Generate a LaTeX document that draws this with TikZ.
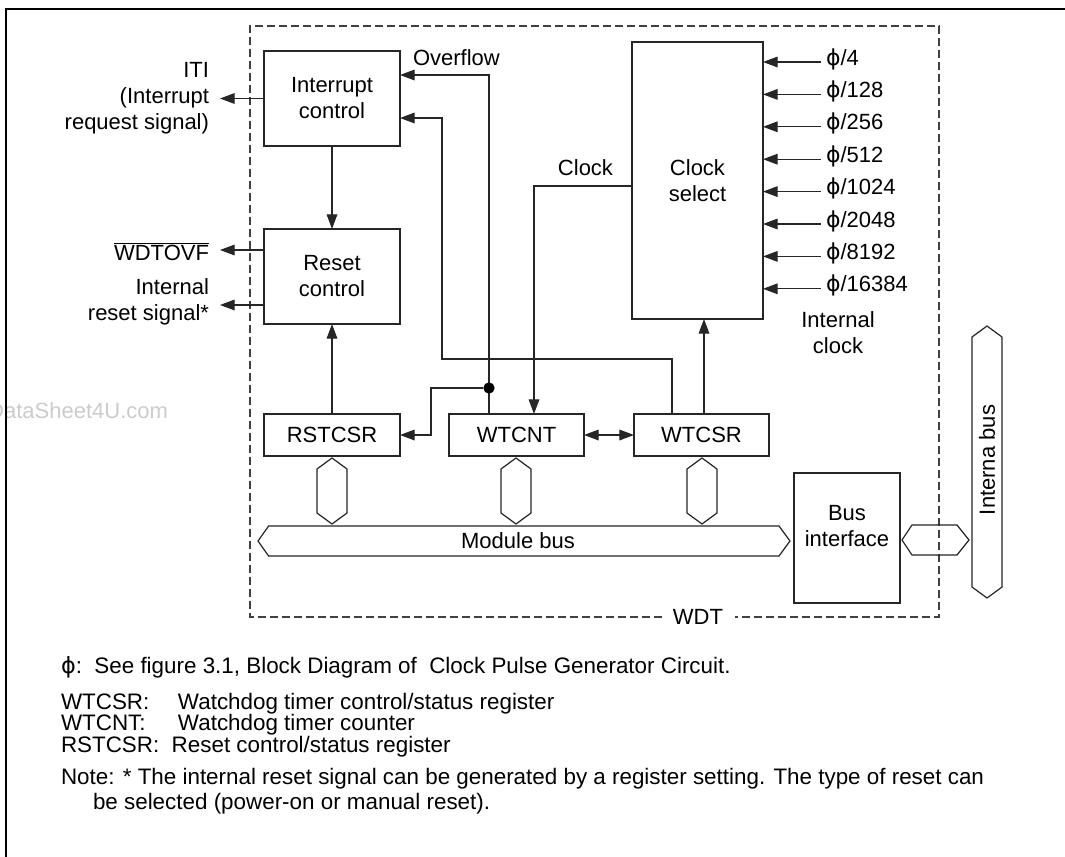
\documentclass[tikz,border=0pt]{standalone}
\usepackage{fontspec}
\setmainfont{Liberation Sans}
\newfontfamily\dvs{DejaVu Sans}
\usetikzlibrary{arrows.meta}
\newcommand{\ph}{{\dvs ϕ}}
\begin{document}
\begin{tikzpicture}[x=0.75pt,y=-0.75pt,
  font=\fontsize{16.5}{19.5}\selectfont,
  every node/.style={inner sep=0pt, outer sep=0pt},
  box/.style={draw=black!85, line width=0.9pt, fill=white, align=center},
  conn/.style={draw=black!85, line width=0.9pt},
  arr/.style={conn, -{Triangle[length=11pt,width=8pt]}},
  dbl/.style={conn, {Triangle[length=11pt,width=8pt]}-{Triangle[length=11pt,width=8pt]}},
  bus/.style={draw=black!85, line width=0.9pt},
  wdtline/.style={draw=black!75, line width=0.8pt, dash pattern=on 6pt off 3pt},
  dotnode/.style={circle, fill=black, minimum size=8.5pt},
  legend/.style={anchor=base west, font=\fontsize{16.8}{20}\selectfont},
]
\fill[white] (0,0) rectangle (1065,857);
\useasboundingbox (0,0) rectangle (1065,857);

% watermark
\node[anchor=east, text=black!20, font=\fontsize{16.5}{17}\selectfont] (wm) at (168,411) {DataSheet4U.com};

% outer frame
\draw[line width=1.6pt] (5.7,9) rectangle (1080,880);

% WDT dashed box
\draw[wdtline] (662,617) -- (250,617) -- (250,26) -- (939,26) -- (939,617) -- (735,617);
\node (wdt) at (698,617) {WDT};

% blocks
\node[box, minimum width=102pt, minimum height=71.25pt] (ic) at (332,98.5) {Interrupt\\control};
\node[box, minimum width=102pt, minimum height=71.25pt] (rc) at (332,276.5) {Reset\\control};
\node[box, minimum width=98.25pt, minimum height=207.75pt] (cs) at (697.5,180.5) {Clock\\select};
\node[box, minimum width=102pt, minimum height=31.5pt] (rst) at (332,435) {RSTCSR};
\node[box, minimum width=101.25pt, minimum height=31.5pt] (cnt) at (516.5,435) {WTCNT};
\node[box, minimum width=101.25pt, minimum height=31.5pt] (csr) at (701.5,435) {WTCSR};
\node[box, minimum width=79.5pt, minimum height=97.5pt] (bi) at (847,538) {};
\node[align=center] (bit) at (847,526.5) {Bus\\interface};

% outputs on the left
\coordinate (itip) at (220,98.5);
\draw[arr] (ic.west) -- (itip);
\node[anchor=east, align=right] (iti) at (209,98) {ITI\\(Interrupt\\request signal)};
\coordinate (wtip) at (220,250);
\draw[arr] (rc.west |- wtip) -- (wtip);
\node[anchor=base east] (wdtovf) at (209,260) {$\overline{\mbox{WDTOVF}}$};
\coordinate (rtip) at (220,305);
\draw[arr] (rc.west |- rtip) -- (rtip);
\node[anchor=east, align=right] (irs) at (209,302) {Internal\\reset signal*};

% internal arrows
\draw[arr] (ic.south) -- (rc.north);
\draw[arr] (rst.north) -- (rc.south);

% overflow
\coordinate (ov) at (489,75);
\draw[arr] (cnt.north -| ov) -- (ov) -- (ov -| ic.east);
\node[anchor=base west] (ovl) at (413,65) {Overflow};
\node[dotnode] (jn) at (489,388) {};
\coordinate (jb) at (431,388);
\draw[arr] (jn) -- (jb) -- (jb |- rst.east) -- (rst.east);

% WTCSR -> interrupt control
\coordinate (ra) at (672,359);
\coordinate (rb) at (442,118);
\draw[arr] (ra |- csr.north) -- (ra) -- (ra -| rb) -- (rb) -- (rb -| ic.east);

% clock
\coordinate (clk) at (534,186);
\draw[arr] (clk -| cs.west) -- (clk) -- (clk |- cnt.north);
\node[anchor=base east] (clkl) at (613,175) {Clock};

% WTCSR -> clock select
\coordinate (up) at (704,390);
\draw[arr] (up |- csr.north) -- (up |- cs.south);

% WTCNT <-> WTCSR
\draw[dbl] (cnt.east) -- (csr.west);

% clock inputs
\foreach \y/\t [count=\i] in {62/4, 94.4/128, 126.8/256, 159.2/512, 191.6/1024, 224/2048, 256.4/8192, 288.8/16384}{
  \coordinate (p\i) at (821,\y);
  \draw[arr] (p\i) -- (p\i -| cs.east);
  \node[anchor=base west] (pl\i) at (826,\y+3) {\ph/\t};
}
\node[align=center] (intclk) at (838,333) {Internal\\clock};

% register bus connectors
\foreach \x/\n in {332/a, 516/b, 702/c}{
  \draw[bus] (\x,458) -- (\x+15,469) -- (\x+15,513) -- (\x,524) -- (\x-15,513) -- (\x-15,469) -- cycle;
}
% module bus
\draw[bus] (258,541) -- (268.6,526) -- (779,526) -- (790,541) -- (779,556) -- (268.6,556) -- cycle;
\node (mbus) at (518,541) {Module bus};
% bus interface to internal bus
\draw[bus] (902,540) -- (912,525) -- (957,525) -- (969,540) -- (957,555) -- (912,555) -- cycle;
% internal bus
\draw[bus] (987,326) -- (1002,337) -- (1002,587) -- (987,598) -- (972,587) -- (972,337) -- cycle;
\node[rotate=90] (ibus) at (987,460) {Interna bus};

% legend
\node[legend] (lg1) at (61,673) {\ph:\ \ See figure 3.1, Block Diagram of \ Clock Pulse Generator Circuit.};
\node[legend] (lg2) at (61,709) {\makebox[87.75pt][l]{WTCSR:}Watchdog timer control/status register};
\node[legend] (lg3) at (61,730) {\makebox[87.75pt][l]{WTCNT:}Watchdog timer counter};
\node[legend] (lg4) at (61,752) {RSTCSR:\ \ Reset control/status register};
\node[legend] (lg5) at (61,784) {Note: * The internal reset signal can be generated by a register setting. The type of reset can};
\node[legend] (lg6) at (93,809) {be selected (power-on or manual reset).};
\end{tikzpicture}
\end{document}
